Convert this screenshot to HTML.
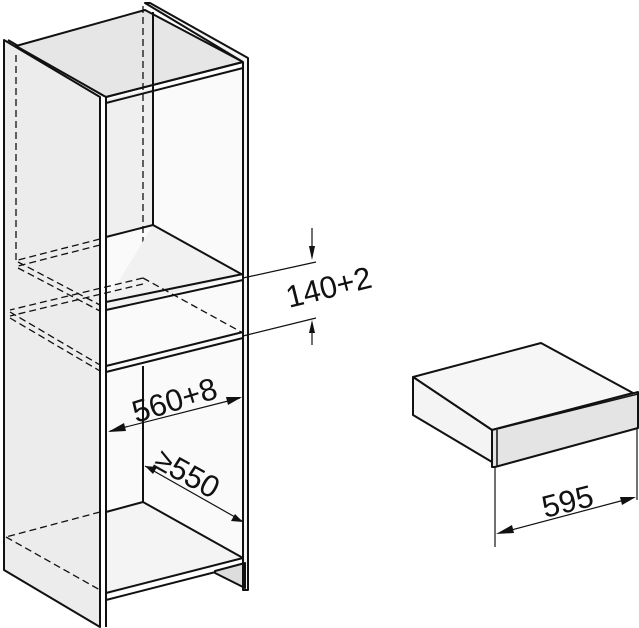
<!DOCTYPE html>
<html><head><style>body{margin:0;background:#fff}svg{display:block}text{font-family:"Liberation Sans",sans-serif;fill:#111;stroke:none}</style></head><body>
<svg width="639" height="628" viewBox="0 0 639 628" stroke="#111" stroke-linejoin="round">
<polygon points="4,40 100,97 100,627 4,570" fill="#ececec" stroke-width="2"/>
<line x1="8" y1="40" x2="104" y2="96" stroke-width="2"/>
<polygon points="16,46 145,10 243,62 106,97" fill="#e6e6e6" stroke-width="2"/>
<polygon points="145,3 150,3 248,58 248,590 243,590 243,62" fill="#f4f4f4" stroke-width="2"/>
<polygon points="106,100 243,66 243,558 106,595" fill="#fafafa" stroke="none"/>
<polygon points="106,100 153,88 153,225 106,236" fill="#efefef" stroke="none"/>
<line x1="153" y1="12" x2="153" y2="225" stroke-width="2"/>
<line x1="143" y1="6" x2="143" y2="280" stroke-dasharray="7,4" stroke-width="1.3"/>
<line x1="16" y1="55" x2="16" y2="260" stroke-dasharray="7,4" stroke-width="1.3"/>
<polyline points="106,97 243,62" fill="none" stroke-width="2"/>
<polyline points="106,103 243,68" fill="none" stroke-width="2"/>
<polygon points="106,302 153,225 243,275 106,310" fill="#f1f1f1" stroke="none"/>
<line x1="153" y1="225" x2="243" y2="275" stroke-width="2"/>
<line x1="153" y1="225" x2="106" y2="237" stroke-width="2"/>
<line x1="106" y1="302" x2="243" y2="274" stroke-width="2"/>
<line x1="106" y1="310" x2="243" y2="280" stroke-width="2"/>
<line x1="100" y1="239" x2="18" y2="260" stroke-dasharray="7,4" stroke-width="1.3"/>
<line x1="100" y1="245" x2="18" y2="266" stroke-dasharray="7,4" stroke-width="1.3"/>
<line x1="18" y1="262" x2="100" y2="305" stroke-dasharray="7,4" stroke-width="1.3"/>
<line x1="18" y1="268" x2="100" y2="311" stroke-dasharray="7,4" stroke-width="1.3"/>
<line x1="143" y1="278" x2="243" y2="333" stroke-dasharray="7,4" stroke-width="1.3"/>
<line x1="143" y1="278" x2="10" y2="310" stroke-dasharray="7,4" stroke-width="1.3"/>
<line x1="143" y1="284" x2="10" y2="316" stroke-dasharray="7,4" stroke-width="1.3"/>
<line x1="10" y1="312" x2="100" y2="365" stroke-dasharray="7,4" stroke-width="1.3"/>
<line x1="10" y1="318" x2="100" y2="371" stroke-dasharray="7,4" stroke-width="1.3"/>
<line x1="106" y1="366" x2="243" y2="332" stroke-width="2"/>
<line x1="106" y1="372" x2="243" y2="338" stroke-width="2"/>
<line x1="143" y1="366" x2="143" y2="502" stroke-width="2"/>
<polygon points="143,502 243,558 106,595 106,512" fill="#f4f4f4" stroke="none"/>
<line x1="143" y1="502" x2="243" y2="558" stroke-width="2"/>
<line x1="143" y1="502" x2="106" y2="512" stroke-width="2"/>
<line x1="100" y1="512" x2="6" y2="537" stroke-dasharray="7,4" stroke-width="1.3"/>
<line x1="6" y1="537" x2="100" y2="590" stroke-dasharray="7,4" stroke-width="1.3"/>
<line x1="106" y1="593" x2="243" y2="558" stroke-width="2"/>
<line x1="106" y1="600" x2="243" y2="565" stroke-width="2"/>
<polygon points="215,571 245,563 245,588 215,573" fill="#ddd" stroke-width="2"/>
<line x1="100" y1="97" x2="100" y2="627" stroke-width="2"/>
<line x1="106" y1="97" x2="106" y2="627" stroke-width="2"/>
<line x1="243" y1="62" x2="243" y2="590" stroke-width="2"/>
<line x1="248" y1="58" x2="248" y2="590" stroke-width="2"/>
<g stroke-width="1.2" fill="#111">
<line x1="243" y1="278" x2="316" y2="262"/>
<line x1="243" y1="336" x2="316" y2="318"/>
<line x1="312" y1="228" x2="312" y2="248"/><polygon points="309,246 315,246 312,260" stroke="none"/>
<line x1="312" y1="332" x2="312" y2="345"/><polygon points="309,333 315,333 312,320" stroke="none"/>
<line x1="110" y1="431" x2="240" y2="398"/>
<polygon points="108,432 124,423 126,431" stroke="none"/>
<polygon points="242,397 226,397 228,405" stroke="none"/>
<line x1="145" y1="466" x2="242" y2="521"/>
<polygon points="145,466 157,467 153,474" stroke="none"/>
<polygon points="243,522 231,521 235,514" stroke="none"/>
</g>
<text font-size="31" transform="translate(289,308) rotate(-14)">140+2</text>
<text font-size="31" transform="translate(136,423) rotate(-17)">560+8</text>
<text font-size="31" transform="translate(152,466) rotate(29)">≥550</text>
<polygon points="413,377 541,343 633,393 492,430" fill="#f6f6f6" stroke-width="2"/>
<polygon points="413,377 492,430 492,462 413,415" fill="#f4f4f4" stroke-width="2"/>
<polygon points="492,430 638,392 638,428 495,467 492,467" fill="#e4e4e4" stroke-width="2"/>
<line x1="497" y1="430" x2="497" y2="466" stroke-width="1.5"/>
<line x1="497" y1="429" x2="638" y2="394" stroke-width="1.5"/>
<g stroke-width="1.2" fill="#111">
<line x1="495" y1="468" x2="495" y2="547"/>
<line x1="637" y1="428" x2="637" y2="500"/>
<line x1="500" y1="533" x2="632" y2="498"/>
<polygon points="496,534 512,525 514,533" stroke="none"/>
<polygon points="636,497 620,497 622,505" stroke="none"/>
</g>
<text font-size="31" transform="translate(545,518) rotate(-14)">595</text>
</svg>
</body></html>
